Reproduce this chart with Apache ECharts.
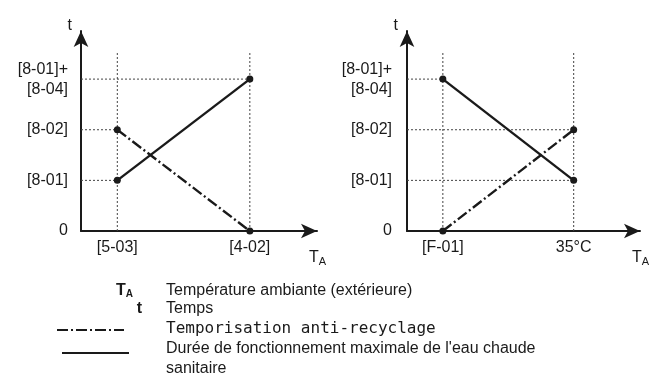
<!DOCTYPE html>
<html>
<head>
<meta charset="utf-8">
<script src="https://cdn.jsdelivr.net/npm/echarts@6/dist/echarts.min.js"></script>
<style>
  html, body { margin: 0; padding: 0; background: #fff; }
  #chart { width: 656px; height: 385px; }
</style>
</head>
<body>
<div id="chart"></div>
<script>
// Vertical scale: 0, [8-01], [8-02], [8-01]+[8-04]
const yTickValues = [0, 1, 2, 3];
const yTickLabels = ['0', '[8-01]', '[8-02]', '[8-01]+\n[8-04]'];

// Left panel: outdoor temperature thresholds
const leftXValues = [1, 4.65];
const leftXLabels = ['[5-03]', '[4-02]'];
const leftMaxRun = [1, 3];      // durée de fonctionnement maximale
const leftAntiCycle = [2, 0];   // temporisation anti-recyclage

// Right panel
const rightXValues = [1, 4.65];
const rightXLabels = ['[F-01]', '35°C'];
const rightMaxRun = [3, 1];
const rightAntiCycle = [0, 2];

const X_MAX = 6.5;
const Y_MAX = 3.95;
const GUIDE_TOP = 3.54;

const INK = '#1a1a1a';
const SANS = '"Liberation Sans", Arial, sans-serif';
const FS = 16;

function xAxisFor(gridIndex, values, labels) {
  return {
    gridIndex, type: 'value', min: 0, max: X_MAX,
    axisLine: { show: true, onZero: false, symbol: ['none', 'arrow'], symbolSize: [11, 16],
      lineStyle: { color: INK, width: 2 } },
    axisTick: { show: false },
    splitLine: { show: false },
    axisLabel: {
      customValues: values,
      formatter: v => labels[values.indexOf(v)] || '',
      color: INK, fontFamily: SANS, fontSize: FS, margin: 9
    },
    name: '{t|T}{s|A}',
    nameLocation: 'end',
    nameGap: -8,
    nameTextStyle: {
      align: 'left', verticalAlign: 'top', padding: [17, 0, 0, 0],
      rich: {
        t: { fontFamily: SANS, fontSize: FS, color: INK },
        s: { fontFamily: SANS, fontSize: 11, color: INK, verticalAlign: 'bottom', padding: [8, 0, 0, 0] }
      }
    }
  };
}

function yAxisFor(gridIndex, margin) {
  return {
    gridIndex, type: 'value', min: 0, max: Y_MAX,
    axisLine: { show: true, onZero: false, symbol: ['none', 'arrow'], symbolSize: [11, 16],
      lineStyle: { color: INK, width: 2 } },
    axisTick: { show: false },
    splitLine: { show: false },
    axisLabel: {
      customValues: yTickValues,
      formatter: v => yTickLabels[yTickValues.indexOf(v)] || '',
      color: INK, fontFamily: SANS, fontSize: FS, lineHeight: 20, margin
    },
    name: 't',
    nameLocation: 'end',
    nameGap: -3,
    nameTextStyle: { align: 'right', padding: [0, 9, 0, 0], fontFamily: SANS, fontSize: FS, color: INK }
  };
}

// dotted guides: vertical at each threshold, horizontal from the t axis to each end point
function guideSeries(axisIndex, xValues, lines) {
  const out = [];
  const dotted = { color: '#444', width: 1, type: [2, 2] };
  xValues.forEach(x => {
    out.push({ type: 'line', xAxisIndex: axisIndex, yAxisIndex: axisIndex, data: [[x, 0], [x, GUIDE_TOP]],
      symbol: 'none', lineStyle: dotted, silent: true, z: 1, animation: false });
  });
  lines.forEach(ys => {
    ys.forEach((y, i) => {
      if (y > 0) {
        out.push({ type: 'line', xAxisIndex: axisIndex, yAxisIndex: axisIndex, data: [[0, y], [xValues[i], y]],
          symbol: 'none', lineStyle: dotted, silent: true, z: 1, animation: false });
      }
    });
  });
  return out;
}

function curve(axisIndex, xValues, ys, dashed) {
  return {
    type: 'line', xAxisIndex: axisIndex, yAxisIndex: axisIndex,
    data: xValues.map((x, i) => [x, ys[i]]),
    symbol: 'circle', symbolSize: 7, showSymbol: true,
    itemStyle: { color: INK },
    lineStyle: { color: INK, width: 2.4, type: dashed ? [11, 3, 2, 3] : 'solid' },
    z: 3, animation: false
  };
}

const chart = echarts.init(document.getElementById('chart'), null, { renderer: 'canvas' });

chart.setOption({
  backgroundColor: '#fff',
  animation: false,
  grid: [
    { left: 81, top: 31, width: 236, height: 200 },
    { left: 407, top: 31, width: 233, height: 200 }
  ],
  xAxis: [xAxisFor(0, leftXValues, leftXLabels), xAxisFor(1, rightXValues, rightXLabels)],
  yAxis: [yAxisFor(0, 13), yAxisFor(1, 15)],
  series: [
    ...guideSeries(0, leftXValues, [leftMaxRun, leftAntiCycle]),
    ...guideSeries(1, rightXValues, [rightMaxRun, rightAntiCycle]),
    curve(0, leftXValues, leftMaxRun, false),
    curve(0, leftXValues, leftAntiCycle, true),
    curve(1, rightXValues, rightMaxRun, false),
    curve(1, rightXValues, rightAntiCycle, true)
  ],
  graphic: [
    { type: 'text', x: 133, y: 291, style: {
        text: '{b|T}{s|A}', align: 'right', verticalAlign: 'middle',
        rich: {
          b: { font: 'bold 16px ' + SANS, fill: INK },
          s: { font: 'bold 10px ' + SANS, fill: INK, padding: [7, 0, 0, 0] }
        } } },
    { type: 'text', x: 142, y: 309, style: { text: 't', font: 'bold 16px ' + SANS, fill: INK, align: 'right', verticalAlign: 'middle' } },
    { type: 'line', shape: { x1: 57, y1: 330, x2: 124, y2: 330 },
      style: { stroke: INK, lineWidth: 2, lineDash: [11, 3, 2, 3] } },
    { type: 'line', shape: { x1: 62, y1: 353, x2: 129, y2: 353 },
      style: { stroke: INK, lineWidth: 2 } },
    { type: 'text', x: 166, y: 291, style: { text: 'Température ambiante (extérieure)', font: '16px ' + SANS, fill: INK, verticalAlign: 'middle' } },
    { type: 'text', x: 166, y: 309, style: { text: 'Temps', font: '16px ' + SANS, fill: INK, verticalAlign: 'middle' } },
    { type: 'text', x: 166, y: 329, style: { text: 'Temporisation anti-recyclage', font: '16px "DejaVu Sans Mono", monospace', fill: INK, verticalAlign: 'middle' } },
    { type: 'text', x: 166, y: 349, style: { text: "Durée de fonctionnement maximale de l'eau chaude", font: '16px ' + SANS, fill: INK, verticalAlign: 'middle' } },
    { type: 'text', x: 166, y: 369, style: { text: 'sanitaire', font: '16px ' + SANS, fill: INK, verticalAlign: 'middle' } }
  ]
});
</script>
</body>
</html>
